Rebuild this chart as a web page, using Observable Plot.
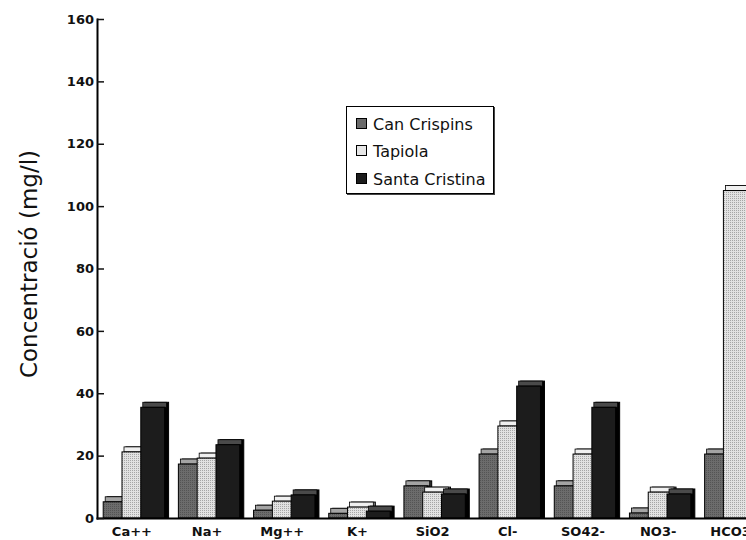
<!DOCTYPE html>
<html>
<head>
<meta charset="utf-8">
<script src="https://cdn.jsdelivr.net/npm/d3@7"></script>
<script src="https://cdn.jsdelivr.net/npm/@observablehq/plot@0.6"></script>
<style>
  html, body { margin: 0; padding: 0; background: #fff; overflow: hidden; }
  #wrap { position: relative; width: 746px; height: 540px; overflow: hidden; }
  #legend {
    position: absolute; left: 346px; top: 106px; width: 146px; height: 86px;
    border: 1.5px solid #000; background: #fff; box-shadow: 1px 1px 0 #444;
    font-family: "DejaVu Sans", sans-serif; font-size: 16px; color: #111;
  }
  #legend .item { position: absolute; left: 9px; height: 18px; line-height: 18px; white-space: nowrap; }
  #legend .sw { display: inline-block; width: 9px; height: 9px; border: 1px solid #000; margin-right: 6px; vertical-align: 1px; }
</style>
</head>
<body>
<div id="wrap"><div id="chart"></div><div id="legend"></div></div>
<script>
const categories = ["Ca++", "Na+", "Mg++", "K+", "SiO2", "Cl-", "SO42-", "NO3-", "HCO3-"];
const seriesNames = ["Can Crispins", "Tapiola", "Santa Cristina"];
const canCrispins   = [5.2, 17.3, 2.5, 1.5, 10.3, 20.5, 10.3, 1.6, 20.5];
const tapiola       = [21.2, 19.2, 5.4, 3.5, 8.3, 29.5, 20.5, 8.3, 105];
const santaCristina = [35.5, 23.5, 7.4, 2.2, 7.7, 42.3, 35.5, 7.7, null];
const yTicks = [0, 20, 40, 60, 80, 100, 120, 140, 160];
const yLabel = "Concentració (mg/l)";

const frontFill = ["url(#ccFront)", "url(#tapFront)", "#1c1c1c"];
const topFill   = ["#a4a4a4", "#f0f0f0", "#4a4a4a"];
const sideFill  = ["#2e2e2e", "#8a8a8a", "#000000"];
const swatch    = ["#6a6a6a", "#e6e6e6", "#1c1c1c"];

const valuesBySeries = [canCrispins, tapiola, santaCristina];
// slot keys: three bars + one spacer per category
const keys = categories.flatMap(c => [0, 1, 2, 3].map(i => `${c}|${i}`));
const rows = [];
categories.forEach((c, ci) => {
  valuesBySeries.forEach((vals, si) => {
    rows.push({category: c, series: seriesNames[si], si, key: `${c}|${si}`, value: vals[ci]});
  });
});
const labelKeys = categories.map(c => `${c}|1`);

const marks = [];
for (let si = 0; si < 3; si++) {
  const d = rows.filter(r => r.si === si && r.value != null);
  // extruded back (side face)
  marks.push(Plot.barY(d, {x: "key", y1: 0, y2: "value", insetRight: -5, insetBottom: -5, dx: 4, dy: -5,
    fill: sideFill[si], stroke: "#000", strokeWidth: 1}));
  // top face
  marks.push(Plot.barY(d, {x: "key", y1: "value", y2: "value", insetTop: -5, insetRight: -5, dx: 2,
    fill: topFill[si], stroke: "#000", strokeWidth: 0.8}));
  // front face
  marks.push(Plot.barY(d, {x: "key", y1: 0, y2: "value", insetRight: -5,
    fill: frontFill[si], stroke: "#000", strokeWidth: 1}));
}

const chart = Plot.plot({
  width: 786,
  height: 540,
  marginLeft: 97,
  marginRight: 0,
  marginTop: 19,
  marginBottom: 22,
  style: {fontFamily: "DejaVu Sans, sans-serif", fontSize: "13px", fontWeight: "bold", color: "#111", maxWidth: "none", background: "#fff"},
  x: {type: "band", domain: keys, paddingInner: 0, paddingOuter: 0.33, align: 0.5, round: false},
  y: {domain: [0, 160]},
  marks: [
    ...marks,
    Plot.frame({anchor: "left", strokeWidth: 2, stroke: "#000"}),
    Plot.frame({anchor: "bottom", strokeWidth: 2, stroke: "#000"}),
    Plot.axisY({ticks: yTicks, tickSize: -7, tickPadding: 10.5, label: null, strokeWidth: 1.5}),
    Plot.axisX({ticks: labelKeys, tickSize: 0, tickPadding: 8, label: null, tickFormat: k => k.split("|")[0]}),
    Plot.text([yLabel], {text: d => d, frameAnchor: "left", textAnchor: "middle", dx: -68, dy: -5, rotate: -90, fontSize: 23, fontWeight: "normal"})
  ]
});

// texture patterns
const svg = d3.select(chart.tagName.toLowerCase() === "svg" ? chart : chart.querySelector("svg"));
const defs = svg.insert("defs", ":first-child");
const p1 = defs.append("pattern").attr("id", "ccFront").attr("width", 2).attr("height", 2).attr("patternUnits", "userSpaceOnUse");
p1.append("rect").attr("width", 2).attr("height", 2).attr("fill", "#6c6c6c");
p1.append("rect").attr("width", 1).attr("height", 1).attr("fill", "#545454");
const p2 = defs.append("pattern").attr("id", "tapFront").attr("width", 2).attr("height", 2).attr("patternUnits", "userSpaceOnUse");
p2.append("rect").attr("width", 2).attr("height", 2).attr("fill", "#e2e2e2");
p2.append("rect").attr("width", 1).attr("height", 1).attr("fill", "#a6a6a6");

document.getElementById("chart").appendChild(chart);

// legend
const legend = document.getElementById("legend");
const rowTops = [9, 36, 64];
seriesNames.forEach((name, i) => {
  const item = document.createElement("div");
  item.className = "item";
  item.style.top = rowTops[i] + "px";
  const sw = document.createElement("span");
  sw.className = "sw";
  sw.style.background = swatch[i];
  item.appendChild(sw);
  item.appendChild(document.createTextNode(name));
  legend.appendChild(item);
});
</script>
</body>
</html>
